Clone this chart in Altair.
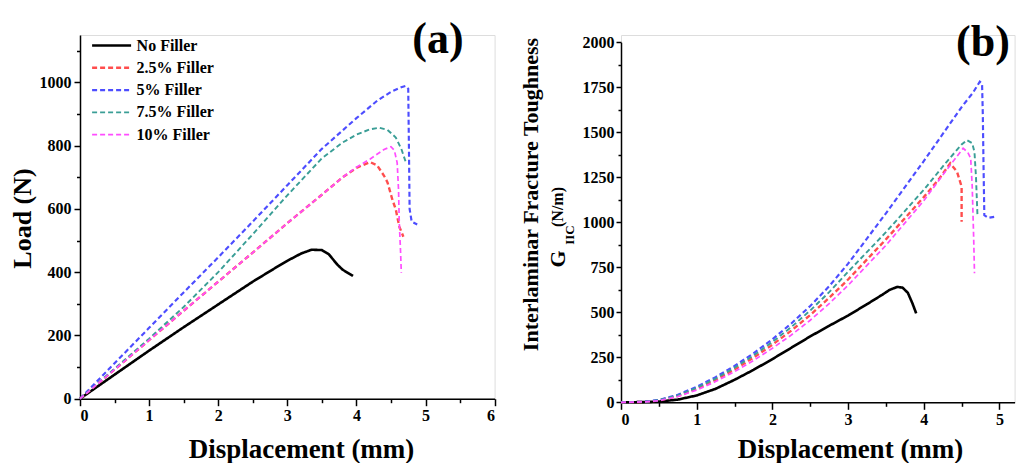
import altair as alt
import pandas as pd

SERIES = ["No Filler", "2.5% Filler", "5% Filler", "7.5% Filler", "10% Filler"]
COLORS = ["#000000", "#FF4D4D", "#4D4DFF", "#3A9E96", "#FF4DFF"]
DASHES = [[1, 0], [5, 3], [5, 3], [5, 3], [5, 3]]
WIDTHS = [2.6, 1.7, 1.7, 1.7, 1.7]
FONT = "Liberation Serif"

# ---------------- panel (a): Load vs displacement ----------------
a_no_x = [0, 0.5, 1, 1.5, 2, 2.5, 2.8, 3.0, 3.2, 3.35, 3.5, 3.6, 3.72, 3.8, 3.95]
a_no_y = [0, 76, 152, 226, 298, 370, 410, 436, 459, 471, 470, 457, 425, 408, 388]
a_25_x = [0, 0.5, 1, 1.5, 2, 2.5, 3, 3.5, 3.8, 4.0, 4.2, 4.3, 4.4, 4.45, 4.52, 4.57, 4.62, 4.68]
a_25_y = [0, 92, 185, 278, 370, 462, 555, 645, 700, 730, 748, 738, 705, 684, 630, 598, 545, 512]
a_5_x = [0, 0.5, 1, 1.5, 2, 2.5, 3, 3.5, 4, 4.3, 4.5, 4.65, 4.71, 4.75, 4.76, 4.77, 4.8, 4.88]
a_5_y = [0, 112, 224, 336, 447, 560, 675, 790, 887, 942, 970, 985, 989, 980, 800, 600, 560, 551]
a_75_x = [0, 0.5, 1, 1.5, 2, 2.5, 3, 3.5, 3.8, 4.0, 4.2, 4.33, 4.45, 4.57, 4.65, 4.71]
a_75_y = [0, 95, 190, 290, 400, 520, 643, 760, 810, 835, 852, 857, 850, 826, 790, 751]
a_10_x = [0, 0.5, 1, 1.5, 2, 2.5, 3, 3.5, 3.8, 4.0, 4.2, 4.4, 4.5, 4.55, 4.59, 4.61, 4.62, 4.64, 4.65]
a_10_y = [0, 92, 185, 278, 370, 462, 555, 645, 700, 732, 758, 788, 797, 785, 746, 660, 560, 460, 398]

# ---------------- panel (b): G_IIC vs displacement ----------------
b_no_x = [0, 0.3, 0.5, 0.75, 1, 1.25, 1.5, 1.75, 2, 2.25, 2.5, 2.75, 3, 3.25, 3.45, 3.55, 3.65, 3.72, 3.79, 3.85, 3.9]
b_no_y = [0, 1, 4, 15, 38, 75, 125, 180, 240, 303, 366, 425, 482, 545, 597, 625, 641, 637, 608, 550, 494]
b_25_x = [0, 0.3, 0.5, 0.75, 1, 1.25, 1.5, 1.75, 2, 2.25, 2.5, 2.75, 3, 3.5, 4, 4.2, 4.35, 4.44, 4.5, 4.5]
b_25_y = [0, 2, 10, 35, 75, 125, 182, 248, 320, 398, 485, 580, 682, 905, 1140, 1240, 1328, 1280, 1198, 1003]
b_5_x = [0, 0.3, 0.5, 0.75, 1, 1.25, 1.5, 1.75, 2, 2.25, 2.5, 2.75, 3, 3.5, 4, 4.3, 4.5, 4.65, 4.74, 4.77, 4.78, 4.79, 4.8, 4.85, 4.93]
b_5_y = [0, 3, 13, 42, 86, 140, 202, 272, 350, 438, 535, 645, 770, 1050, 1340, 1520, 1640, 1720, 1781, 1770, 1600, 1300, 1040, 1025, 1030]
b_75_x = [0, 0.3, 0.5, 0.75, 1, 1.25, 1.5, 1.75, 2, 2.25, 2.5, 2.75, 3, 3.5, 4, 4.3, 4.5, 4.57, 4.64, 4.67, 4.69, 4.71]
b_75_y = [0, 2, 12, 38, 80, 132, 192, 260, 335, 418, 510, 612, 725, 945, 1180, 1335, 1432, 1457, 1440, 1390, 1250, 1031]
b_10_x = [0, 0.3, 0.5, 0.75, 1, 1.25, 1.5, 1.75, 2, 2.25, 2.5, 2.75, 3, 3.5, 4, 4.3, 4.52, 4.58, 4.62, 4.64, 4.66, 4.67]
b_10_y = [0, 2, 9, 32, 68, 115, 170, 232, 300, 374, 456, 548, 650, 872, 1120, 1290, 1411, 1390, 1356, 1200, 900, 717]

A_X_TICKS = [i * 0.5 for i in range(13)]
A_Y_TICKS = list(range(0, 1101, 100))
B_X_TICKS = [i * 0.5 for i in range(11)]
B_Y_TICKS = list(range(0, 2001, 125))


def frame(xs, ys):
    rows = []
    for s, xv, yv in zip(SERIES, xs, ys):
        for i, (a, b) in enumerate(zip(xv, yv)):
            rows.append({"series": s, "x": a, "y": b, "idx": i})
    return pd.DataFrame(rows)


df_a = frame([a_no_x, a_25_x, a_5_x, a_75_x, a_10_x], [a_no_y, a_25_y, a_5_y, a_75_y, a_10_y])
df_b = frame([b_no_x, b_25_x, b_5_x, b_75_x, b_10_x], [b_no_y, b_25_y, b_5_y, b_75_y, b_10_y])


def legend(lx, ly):
    return alt.Legend(
        title=None, orient="none", legendX=lx, legendY=ly,
        symbolType="M-3,0H3", symbolSize=169, symbolOffset=0,
        labelFont=FONT, labelFontSize=16, labelFontWeight="bold", labelColor="black",
        labelOffset=17, rowPadding=6.3, padding=0, labelBaseline="middle",
    )


def axis(values, major_test, major_size, minor_size, **kw):
    return alt.Axis(
        values=values,
        labelExpr=f"({major_test}) ? format(datum.value, 'd') : ''",
        tickSize={"condition": {"test": major_test, "value": major_size}, "value": minor_size},
        domainColor="black", domainWidth=1.5, tickColor="black", tickWidth=1.5,
        labelFont=FONT, labelFontSize=16, labelFontWeight="bold", labelColor="black",
        titleFont=FONT, titleFontWeight="bold", titleColor="black",
        grid=False, labelOverlap=False, **kw,
    )


def lines(df, xdom, ydom, xaxis, yaxis, leg, yrange=None):
    yscale = alt.Scale(domain=ydom, nice=False, zero=False)
    if yrange is not None:
        yscale = alt.Scale(domain=ydom, nice=False, zero=False, range=yrange)
    return alt.Chart(df).mark_line().encode(
        x=alt.X("x:Q", scale=alt.Scale(domain=xdom, nice=False, zero=False), axis=xaxis),
        y=alt.Y("y:Q", scale=yscale, axis=yaxis),
        color=alt.Color("series:N", scale=alt.Scale(domain=SERIES, range=COLORS), legend=leg),
        strokeDash=alt.StrokeDash("series:N", scale=alt.Scale(domain=SERIES, range=DASHES), legend=leg),
        strokeWidth=alt.StrokeWidth("series:N", scale=alt.Scale(domain=SERIES, range=WIDTHS), legend=leg),
        order="idx:Q",
    )


def label(text, x, y, size, angle=0):
    return alt.Chart(pd.DataFrame({"t": [text]})).mark_text(
        font=FONT, fontWeight="bold", fontSize=size, color="black",
        align="center", baseline="middle", angle=angle,
    ).encode(text="t:N", x=alt.value(x), y=alt.value(y))


xa = axis(A_X_TICKS, "datum.value % 1 == 0", 7, 4, labelPadding=2,
          title="Displacement (mm)", titleFontSize=27, titleX=221, titleY=59,
          titleBaseline="alphabetic", titleAlign="center")
ya = axis(A_Y_TICKS, "datum.value % 200 == 0", 6, 3.5, labelPadding=3,
          title="Load (N)", titleFontSize=26, titleAngle=270, titleX=-58, titleY=183,
          titleBaseline="middle", titleAlign="center")

panel_a = alt.layer(
    lines(df_a, [0, 6], [0, 1150], xa, ya, legend(23.6, 2.5)),
    label("(a)", 358, 5, 44),
).properties(width=414.6, height=363.7)

xb = axis(B_X_TICKS, "datum.value % 1 == 0", 7, 4, labelPadding=2,
          title="Displacement (mm)", titleFontSize=27, titleX=229, titleY=55.5,
          titleBaseline="alphabetic", titleAlign="center")
yb = axis(B_Y_TICKS, "datum.value % 250 == 0", 5, 3, labelPadding=2,
          title="Interlaminar Fracture Toughness", titleFontSize=22, titleAngle=270,
          titleX=-91, titleY=159, titleBaseline="middle", titleAlign="center")

panel_b = alt.layer(
    lines(df_b, [0, 5.2], [0, 2000], xb, yb, legend(25.3, 2.5), yrange=[367.3, 7.3]),
    label("(b)", 362, 8, 44),
    label("G", -63, 224, 22, 270),
    label("IIC", -51, 200, 13, 270),
    label("(N/m)", -63, 172, 16, 270),
).properties(width=393.6, height=367.3)

chart = alt.hconcat(panel_a, panel_b, spacing=21).properties(
    padding={"left": 0, "top": 9, "right": 0, "bottom": 0}
).configure_view(stroke=None).configure(background="white")

chart.save("out.html", embed_options={"renderer": "svg", "actions": False})
